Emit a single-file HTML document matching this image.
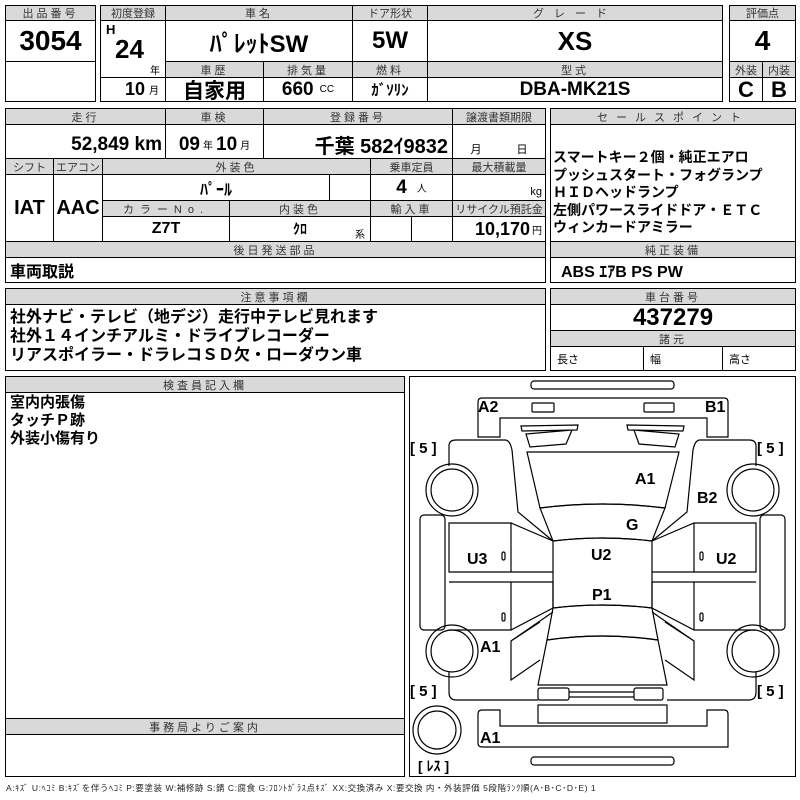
<!DOCTYPE html>
<html><head><meta charset="utf-8"><style>
body{margin:0;width:800px;height:800px;background:#fff;position:relative;overflow:hidden;font-family:"Liberation Sans","Noto Sans CJK JP",sans-serif;}
.c{position:absolute;box-sizing:border-box;border:1px solid #000;background:#fff;display:flex;align-items:center;justify-content:center;white-space:nowrap;overflow:hidden;}
.h{background:#d9d9d9;font-size:11px;color:#333;letter-spacing:3px;}
.v{font-weight:bold;font-family:"Liberation Sans Narrow","Liberation Sans","Noto Sans CJK JP",sans-serif;}
.t{position:absolute;white-space:nowrap;font-weight:bold;}
.s{font-size:10px;font-weight:normal;}
svg{position:absolute;left:0;top:0;}
</style></head><body>
<div class="c h" style="left:5px;top:5px;width:91px;height:16px">出品番号</div>
<div class="c v" style="left:5px;top:20px;width:91px;height:42px;font-size:28px">3054</div>
<div class="c" style="left:5px;top:61px;width:91px;height:41px"></div>
<div class="c h" style="left:100px;top:5px;width:66px;height:16px;letter-spacing:0">初度登録</div>
<div class="c" style="left:100px;top:20px;width:66px;height:58px"></div>
<div class="t v" style="left:106px;top:22px;font-size:13px">H</div>
<div class="t v" style="left:115px;top:34px;font-size:26px">24</div>
<div class="t s" style="left:150px;top:62px">年</div>
<div class="c v" style="left:100px;top:77px;width:66px;height:25px;font-size:18px;justify-content:flex-end;padding-right:6px">10<span class="s" style="margin-left:4px">月</span></div>
<div class="c h" style="left:165px;top:5px;width:188px;height:16px">車名</div>
<div class="c v" style="left:165px;top:20px;width:188px;height:42px;font-size:24px">ﾊﾟﾚｯﾄSW</div>
<div class="c h" style="left:165px;top:61px;width:99px;height:17px">車歴</div>
<div class="c h" style="left:263px;top:61px;width:90px;height:17px">排気量</div>
<div class="c v" style="left:165px;top:77px;width:99px;height:25px;font-size:21px">自家用</div>
<div class="c v" style="left:263px;top:77px;width:90px;height:25px;font-size:19px">660<span class="s" style="margin-left:6px">CC</span></div>
<div class="c h" style="left:352px;top:5px;width:76px;height:16px;letter-spacing:0">ドア形状</div>
<div class="c v" style="left:352px;top:20px;width:76px;height:42px;font-size:24px">5W</div>
<div class="c h" style="left:352px;top:61px;width:76px;height:17px">燃料</div>
<div class="c v" style="left:352px;top:77px;width:76px;height:25px;font-size:15px">ｶﾞｿﾘﾝ</div>
<div class="c h" style="left:427px;top:5px;width:296px;height:16px;letter-spacing:10px">グレード</div>
<div class="c v" style="left:427px;top:20px;width:296px;height:42px;font-size:26px">XS</div>
<div class="c h" style="left:427px;top:61px;width:296px;height:17px">型式</div>
<div class="c v" style="left:427px;top:77px;width:296px;height:25px;font-size:19px">DBA-MK21S</div>
<div class="c h" style="left:729px;top:5px;width:67px;height:16px;letter-spacing:0">評価点</div>
<div class="c v" style="left:729px;top:20px;width:67px;height:42px;font-size:28px">4</div>
<div class="c h" style="left:729px;top:61px;width:34px;height:17px;letter-spacing:0">外装</div>
<div class="c h" style="left:762px;top:61px;width:34px;height:17px;letter-spacing:0">内装</div>
<div class="c v" style="left:729px;top:77px;width:34px;height:25px;font-size:22px">C</div>
<div class="c v" style="left:762px;top:77px;width:34px;height:25px;font-size:22px">B</div>
<div class="c h" style="left:5px;top:108px;width:161px;height:17px">走行</div>
<div class="c h" style="left:165px;top:108px;width:99px;height:17px">車検</div>
<div class="c h" style="left:263px;top:108px;width:190px;height:17px">登録番号</div>
<div class="c h" style="left:452px;top:108px;width:94px;height:17px;letter-spacing:0">譲渡書類期限</div>
<div class="c v" style="left:5px;top:124px;width:161px;height:35px;font-size:19px;justify-content:flex-end;padding-right:3px;padding-top:6px">52,849 km</div>
<div class="c v" style="left:165px;top:124px;width:99px;height:35px;font-size:19px;padding-top:6px">09<span class="s" style="margin:0 3px">年</span>10<span class="s" style="margin-left:3px">月</span></div>
<div class="c v" style="left:263px;top:124px;width:190px;height:35px;font-size:20px;justify-content:flex-end;padding-right:4px;padding-top:6px">千葉 582ｲ9832</div>
<div class="c" style="left:452px;top:124px;width:94px;height:35px;font-size:11px;justify-content:space-around;padding-top:14px"><span>月</span><span>日</span></div>
<div class="c h" style="left:5px;top:158px;width:49px;height:17px;letter-spacing:0">シフト</div>
<div class="c h" style="left:53px;top:158px;width:50px;height:17px;letter-spacing:0">エアコン</div>
<div class="c h" style="left:102px;top:158px;width:269px;height:17px">外装色</div>
<div class="c h" style="left:370px;top:158px;width:83px;height:17px;letter-spacing:0">乗車定員</div>
<div class="c h" style="left:452px;top:158px;width:94px;height:17px;letter-spacing:0">最大積載量</div>
<div class="c v" style="left:5px;top:174px;width:49px;height:68px;font-size:20px">IAT</div>
<div class="c v" style="left:53px;top:174px;width:50px;height:68px;font-size:20px">AAC</div>
<div class="c v" style="left:102px;top:174px;width:228px;height:27px;font-size:16px">ﾊﾟｰﾙ</div>
<div class="c" style="left:329px;top:174px;width:42px;height:27px"></div>
<div class="c v" style="left:370px;top:174px;width:83px;height:27px;font-size:19px">4<span class="s" style="margin-left:10px">人</span></div>
<div class="c" style="left:452px;top:174px;width:94px;height:27px;font-size:11px;justify-content:flex-end;padding:8px 3px 0 0">kg</div>
<div class="c h" style="left:102px;top:200px;width:128px;height:17px;letter-spacing:6px">カラーNo.</div>
<div class="c h" style="left:229px;top:200px;width:142px;height:17px">内装色</div>
<div class="c h" style="left:370px;top:200px;width:83px;height:17px">輸入車</div>
<div class="c h" style="left:452px;top:200px;width:94px;height:17px;letter-spacing:0">リサイクル預託金</div>
<div class="c v" style="left:102px;top:216px;width:128px;height:26px;font-size:16px">Z7T</div>
<div class="c v" style="left:229px;top:216px;width:142px;height:26px;font-size:14px">ｸﾛ</div>
<div class="t s" style="left:355px;top:226px">系</div>
<div class="c" style="left:370px;top:216px;width:42px;height:26px"></div>
<div class="c" style="left:411px;top:216px;width:42px;height:26px"></div>
<div class="c v" style="left:452px;top:216px;width:94px;height:26px;font-size:18px;justify-content:flex-end;padding-right:3px">10,170<span class="s" style="margin-left:2px">円</span></div>
<div class="c h" style="left:5px;top:241px;width:541px;height:17px">後日発送部品</div>
<div class="c" style="left:5px;top:257px;width:541px;height:26px;font-size:16px;font-weight:bold;justify-content:flex-start;padding-left:4px">車両取説</div>
<div class="c h" style="left:550px;top:108px;width:246px;height:17px;letter-spacing:8px">セールスポイント</div>
<div class="c" style="left:550px;top:124px;width:246px;height:118px;display:block;font-size:14px;font-weight:bold;line-height:17.5px;padding:24px 0 0 2px">スマートキー２個・純正エアロ<br>プッシュスタート・フォグランプ<br>ＨＩＤヘッドランプ<br>左側パワースライドドア・ＥＴＣ<br>ウィンカードアミラー</div>
<div class="c h" style="left:550px;top:241px;width:246px;height:17px">純正装備</div>
<div class="c v" style="left:550px;top:257px;width:246px;height:26px;font-size:16px;justify-content:flex-start;padding-left:10px">ABS ｴｱB PS PW</div>
<div class="c h" style="left:5px;top:288px;width:541px;height:17px">注意事項欄</div>
<div class="c" style="left:5px;top:304px;width:541px;height:67px;display:block;font-size:16px;font-weight:bold;line-height:19px;padding:3px 0 0 4px">社外ナビ・テレビ（地デジ）走行中テレビ見れます<br>社外１４インチアルミ・ドライブレコーダー<br>リアスポイラー・ドラレコＳＤ欠・ローダウン車</div>
<div class="c h" style="left:550px;top:288px;width:246px;height:17px">車台番号</div>
<div class="c v" style="left:550px;top:304px;width:246px;height:27px;font-size:24px">437279</div>
<div class="c h" style="left:550px;top:330px;width:246px;height:17px">諸元</div>
<div class="c" style="left:550px;top:346px;width:94px;height:25px;font-size:11px;justify-content:flex-start;padding-left:6px">長さ</div>
<div class="c" style="left:643px;top:346px;width:80px;height:25px;font-size:11px;justify-content:flex-start;padding-left:6px">幅</div>
<div class="c" style="left:722px;top:346px;width:74px;height:25px;font-size:11px;justify-content:flex-start;padding-left:6px">高さ</div>
<div class="c h" style="left:5px;top:376px;width:400px;height:17px">検査員記入欄</div>
<div class="c" style="left:5px;top:392px;width:400px;height:327px;display:block;font-size:15px;font-weight:bold;line-height:18px;padding:1px 0 0 4px">室内内張傷<br>タッチＰ跡<br>外装小傷有り</div>
<div class="c h" style="left:5px;top:718px;width:400px;height:17px">事務局よりご案内</div>
<div class="c" style="left:5px;top:734px;width:400px;height:43px"></div>
<div class="c" style="left:409px;top:376px;width:387px;height:401px"></div>
<svg width="800" height="800" fill="none" stroke="#000" stroke-width="1.2">
<rect x="531" y="381" width="143" height="8" rx="3"/>
<path d="M482 398H724Q728 398 728 402V437H707V418H500V437H478V402Q478 398 482 398Z"/>
<rect x="532" y="403" width="22" height="9" rx="1"/><rect x="644" y="403" width="30" height="9" rx="1"/>
<path d="M521 426L578 425L577 430L522 431Z M526 434L572 430L566 444L530 447Z M627 425L684 426L683 431L628 430Z M634 430L679 434L675 447L639 444Z"/>
<path d="M527 452L679 452L665 508Q602 500 540 508Z"/>
<path d="M540 508Q602 500 665 508L652 541Q602 535 553 541Z"/>
<path d="M553 541Q602 535 652 541V608Q602 602 553 608Z"/>
<path d="M553 608Q602 602 652 608L658 640Q602 632 547 640Z"/>
<path d="M547 640Q602 632 658 640L667 685H538Z"/>
<rect x="538" y="688" width="31" height="12" rx="2"/><rect x="634" y="688" width="29" height="12" rx="2"/>
<path d="M569 692H634M569 697H634"/>
<rect x="538" y="705" width="129" height="18"/>
<path d="M482 710H500V726H707V710H724Q728 710 728 714V747H482Q478 747 478 743V714Q478 710 482 710Z"/>
<rect x="531" y="757" width="143" height="8" rx="3"/>
<path d="M456 440H505Q510 440 512 450L518 512L553 541 M449 466V446Q449 440 456 440 M553 541L511 523H449V572H553 M449 582H553V608L511 630H449 M553 612L511 641V680L540 660 M511 641L540 622 M449 672V692Q449 700 456 700H538"/>
<path d="M749 440H700Q695 440 693 450L687 512L652 541 M756 466V446Q756 440 749 440 M652 541L694 523H756V572H652 M756 582H652V608L694 630H756 M652 612L694 641V680L665 660 M694 641L665 622 M756 672V692Q756 700 749 700H667"/>
<path d="M511 523V572 M511 582V630 M694 523V572 M694 582V630"/>
<rect x="420" y="515" width="25" height="115" rx="4"/><rect x="760" y="515" width="25" height="115" rx="4"/>
<circle cx="452" cy="490" r="26"/><circle cx="452" cy="490" r="21"/>
<circle cx="452" cy="651" r="26"/><circle cx="452" cy="651" r="21"/>
<circle cx="753" cy="490" r="26"/><circle cx="753" cy="490" r="21"/>
<circle cx="753" cy="651" r="26"/><circle cx="753" cy="651" r="21"/>
<circle cx="437" cy="730" r="24"/><circle cx="437" cy="730" r="19"/>
<rect x="502" y="552" width="3" height="8" rx="1.5"/><rect x="502" y="613" width="3" height="8" rx="1.5"/>
<rect x="700" y="552" width="3" height="8" rx="1.5"/><rect x="700" y="613" width="3" height="8" rx="1.5"/>
</svg>
<div class="t v" style="left:478px;top:399px;font-size:16px">A2</div>
<div class="t v" style="left:705px;top:399px;font-size:16px">B1</div>
<div class="t v" style="left:635px;top:471px;font-size:16px">A1</div>
<div class="t v" style="left:697px;top:490px;font-size:16px">B2</div>
<div class="t v" style="left:626px;top:517px;font-size:16px">G</div>
<div class="t v" style="left:467px;top:551px;font-size:16px">U3</div>
<div class="t v" style="left:591px;top:547px;font-size:16px">U2</div>
<div class="t v" style="left:716px;top:551px;font-size:16px">U2</div>
<div class="t v" style="left:592px;top:587px;font-size:16px">P1</div>
<div class="t v" style="left:480px;top:639px;font-size:16px">A1</div>
<div class="t v" style="left:480px;top:730px;font-size:16px">A1</div>
<div class="t" style="left:410px;top:440px;font-size:15px">[ 5 ]</div>
<div class="t" style="left:757px;top:440px;font-size:15px">[ 5 ]</div>
<div class="t" style="left:410px;top:683px;font-size:15px">[ 5 ]</div>
<div class="t" style="left:757px;top:683px;font-size:15px">[ 5 ]</div>
<div class="t" style="left:418px;top:756px;font-size:14px">[ ﾚｽ ]</div>
<div class="t" style="left:6px;top:782px;font-size:8.5px;font-weight:normal;color:#222;letter-spacing:0.55px">A:ｷｽﾞ U:ﾍｺﾐ B:ｷｽﾞを伴うﾍｺﾐ P:要塗装 W:補修跡 S:錆 C:腐食 G:ﾌﾛﾝﾄｶﾞﾗｽ点ｷｽﾞ XX:交換済み X:要交換 内・外装評価 5段階ﾗﾝｸ順(A･B･C･D･E) 1</div>
</body></html>
